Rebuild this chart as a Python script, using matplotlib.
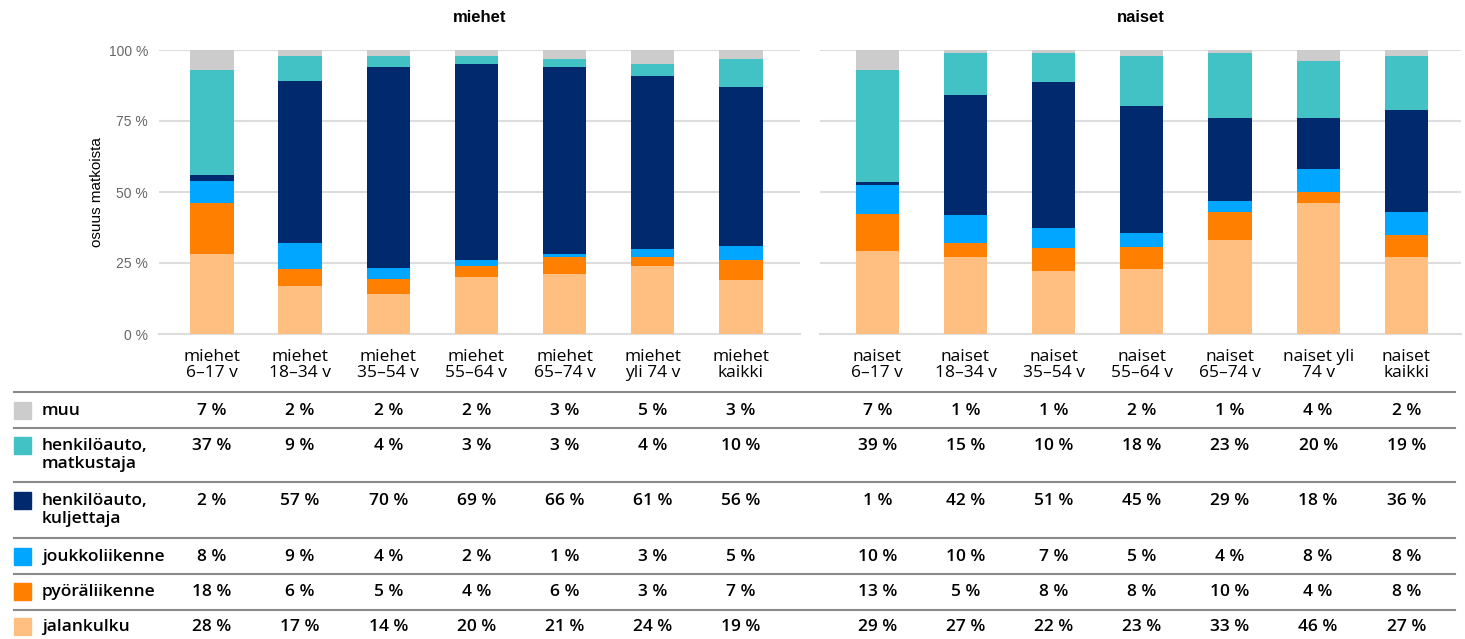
import matplotlib.pyplot as plt
import numpy as np

# data (shares of trips, %)
modes = ["muu", "henkilöauto,\nmatkustaja", "henkilöauto,\nkuljettaja",
         "joukkoliikenne", "pyöräliikenne", "jalankulku"]
colors = ["#cccccc", "#42c2c4", "#00296e", "#00a6ff", "#ff7f00", "#ffbf80"]

men_labels = ["miehet\n6–17 v", "miehet\n18–34 v", "miehet\n35–54 v", "miehet\n55–64 v",
              "miehet\n65–74 v", "miehet\nyli 74 v", "miehet\nkaikki"]
women_labels = ["naiset\n6–17 v", "naiset\n18–34 v", "naiset\n35–54 v", "naiset\n55–64 v",
                "naiset\n65–74 v", "naiset yli\n74 v", "naiset\nkaikki"]

men_muu = [7, 2, 2, 2, 3, 5, 3]
men_matk = [37, 9, 4, 3, 3, 4, 10]
men_kulj = [2, 57, 70, 69, 66, 61, 56]
men_jouk = [8, 9, 4, 2, 1, 3, 5]
men_pyora = [18, 6, 5, 4, 6, 3, 7]
men_jalan = [28, 17, 14, 20, 21, 24, 19]

women_muu = [7, 1, 1, 2, 1, 4, 2]
women_matk = [39, 15, 10, 18, 23, 20, 19]
women_kulj = [1, 42, 51, 45, 29, 18, 36]
women_jouk = [10, 10, 7, 5, 4, 8, 8]
women_pyora = [13, 5, 8, 8, 10, 4, 8]
women_jalan = [29, 27, 22, 23, 33, 46, 27]

men = [men_muu, men_matk, men_kulj, men_jouk, men_pyora, men_jalan]
women = [women_muu, women_matk, women_kulj, women_jouk, women_pyora, women_jalan]

plt.rcParams['font.family'] = ['Liberation Sans', 'DejaVu Sans']
fig = plt.figure(figsize=(14.65, 6.39), dpi=100)
W, H = 1465, 639
ax1 = fig.add_axes([159 / W, 1 - 334 / H, 641 / W, 284 / H])
ax2 = fig.add_axes([820 / W, 1 - 334 / H, 641 / W, 284 / H])

tbl_font = ['Open Sans', 'DejaVu Sans']


def draw_panel(ax, data, labels, title, show_y, left):
    x = np.arange(len(labels))
    arr = np.array(data, dtype=float)
    arr = arr / arr.sum(axis=0) * 100  # 100 % stacked
    bottom = np.zeros(len(labels))
    # stack from bottom (jalankulku) to top (muu)
    for vals, col in zip(arr[::-1], colors[::-1]):
        ax.bar(x, vals, 0.49, bottom=bottom, color=col, zorder=3)
        bottom += vals
    ax.set_xlim(left, left + 7.27)
    ax.set_ylim(0, 100)
    ax.set_yticks([0, 25, 50, 75, 100])
    ax.yaxis.grid(True, color="#dddddd", linewidth=1.5, zorder=0)
    for s in ax.spines.values():
        s.set_visible(False)
    ax.spines['bottom'].set_visible(True)
    ax.spines['bottom'].set_color("#dddddd")
    ax.spines['bottom'].set_linewidth(1.5)
    ax.tick_params(length=0)
    if show_y:
        ax.set_yticklabels([f"{v} %" for v in [0, 25, 50, 75, 100]], color="#666666", fontsize=10)
        ax.tick_params(axis='y', pad=8)
        ax.set_ylabel("osuus matkoista", fontsize=11, labelpad=3)
    else:
        ax.set_yticklabels([])
    ax.set_xticks(x)
    ax.set_xticklabels(labels, fontsize=12.5, family=tbl_font, linespacing=0.95)
    ax.tick_params(axis='x', pad=11)
    ax.set_title(title, fontsize=12, fontweight='bold', pad=20)
    return x


x1 = draw_panel(ax1, men, men_labels, "miehet", True, -0.6)
x2 = draw_panel(ax2, women, women_labels, "naiset", False, -0.65)

# table below the chart
row_y = [410, 445, 500, 556, 591, 626]
lines_y = [392, 428, 482, 538, 574, 610]
for ly in lines_y:
    fig.add_artist(plt.Line2D([14 / W, 1455 / W], [1 - ly / H, 1 - ly / H],
                              color="#8a8a8a", linewidth=1.5))

for i, (mode, col) in enumerate(zip(modes, colors)):
    yf = 1 - row_y[i] / H
    fig.add_artist(plt.Rectangle((14 / W, yf - 9 / H), 17 / W, 17 / H, color=col))
    fig.text(42 / W, yf + 7 / H, mode, fontsize=12.5, fontweight='semibold', family=tbl_font,
             va='top', ha='left', linespacing=1.2)
    for ax, xs, data in [(ax1, x1, men), (ax2, x2, women)]:
        for xi, v in zip(xs, data[i]):
            xd = ax.transData.transform((xi, 0))[0]
            xf = fig.transFigure.inverted().transform((xd, 0))[0]
            fig.text(xf, yf + 7 / H, f"{v} %", fontsize=12.5, fontweight='semibold',
                     family=tbl_font, va='top', ha='center')

fig.savefig("out.png", dpi=100)
